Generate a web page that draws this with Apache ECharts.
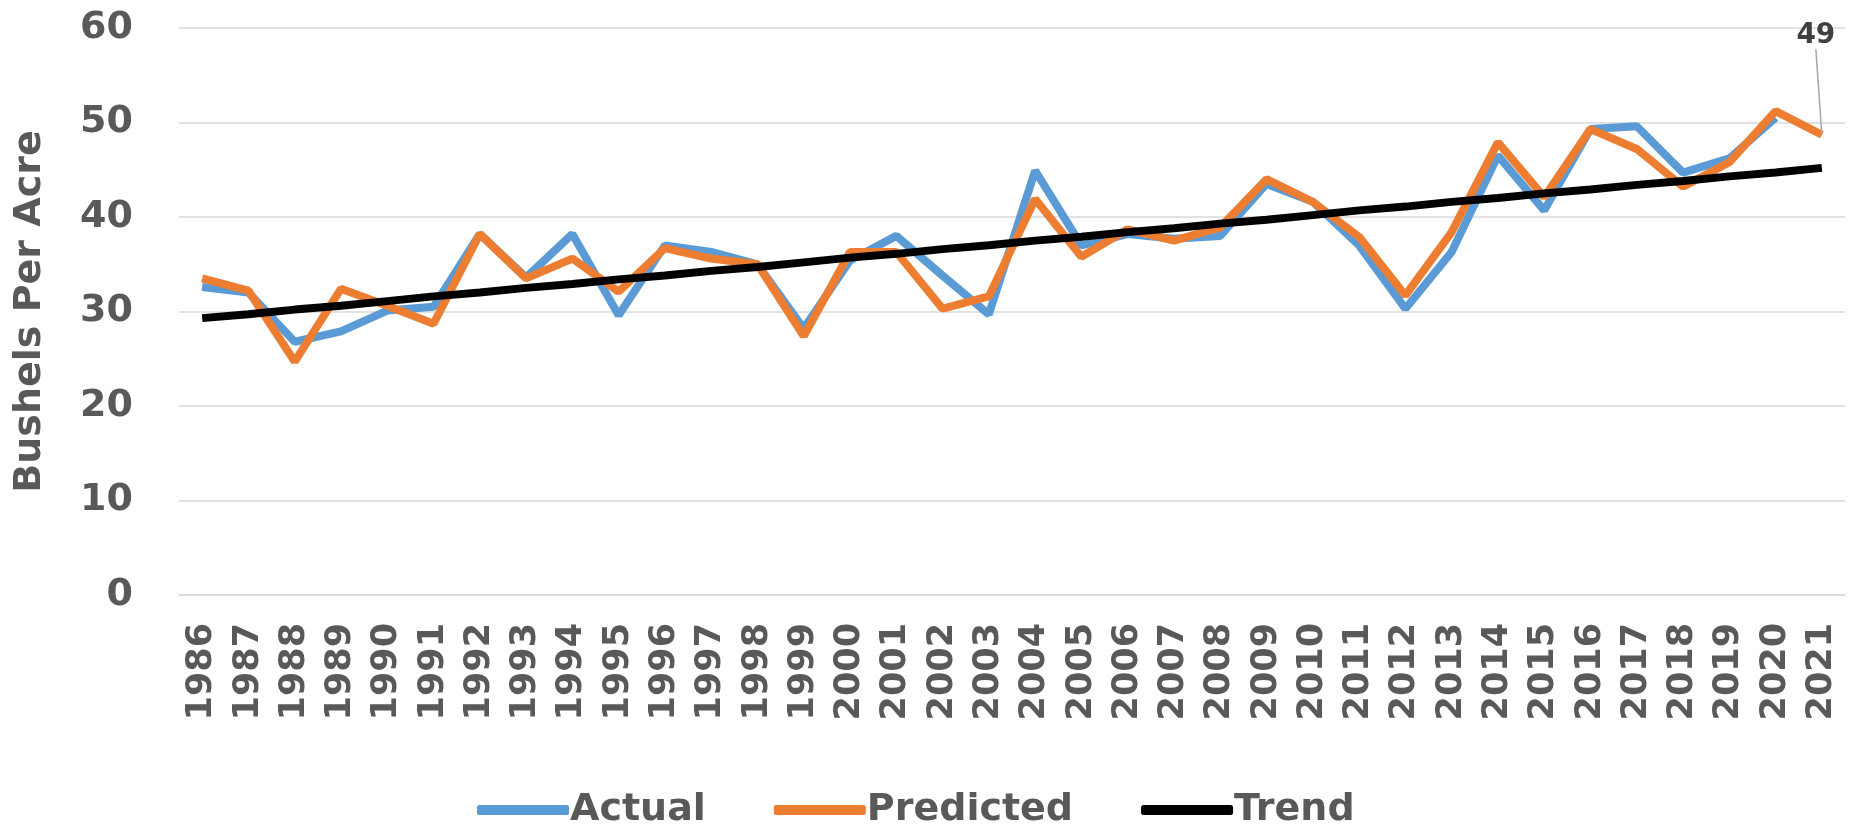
<!DOCTYPE html>
<html>
<head>
<meta charset="utf-8">
<script src="https://cdn.jsdelivr.net/npm/echarts@6/dist/echarts.min.js"></script>
<style>html,body{margin:0;padding:0;background:#fff;}#c{width:1849px;height:829px;}</style>
</head>
<body>
<div id="c"></div>
<script>
const years = ['1986','1987','1988','1989','1990','1991','1992','1993','1994','1995','1996','1997','1998','1999','2000','2001','2002','2003','2004','2005','2006','2007','2008','2009','2010','2011','2012','2013','2014','2015','2016','2017','2018','2019','2020','2021'];
const actual = [32.6,32.0,26.8,27.9,30.1,30.5,38.2,33.6,38.2,29.6,37.0,36.3,35.0,28.2,35.4,38.0,33.8,29.7,44.9,37.0,38.2,37.7,38.0,43.5,41.6,37.0,30.3,36.3,46.5,40.7,49.3,49.6,44.7,46.2,50.5,null];
const predicted = [33.5,32.2,24.7,32.4,30.6,28.7,38.2,33.5,35.6,32.1,36.7,35.6,35.0,27.4,36.3,36.3,30.3,31.6,41.9,35.8,38.7,37.5,38.9,44.0,41.6,37.9,31.7,38.4,47.9,42.1,49.3,47.2,43.2,45.8,51.2,48.7];
const trend = [29.3,29.7,30.2,30.6,31.1,31.6,32.0,32.5,32.9,33.4,33.8,34.3,34.7,35.2,35.7,36.1,36.6,37.0,37.5,37.9,38.4,38.8,39.3,39.7,40.2,40.7,41.1,41.6,42.0,42.5,42.9,43.4,43.8,44.3,44.7,45.2];
const yTicks = [0,10,20,30,40,50,60];
const seriesNames = ['Actual','Predicted','Trend'];

const FONT = 'DejaVu Sans';
const GRAY = '#595959';
const chart = echarts.init(document.getElementById('c'));
const predData = predicted.map((v,i)=> i===predicted.length-1 ? {
  value: v,
  symbol: 'circle', symbolSize: 1,
  label: {show:true, position:'top', formatter: p => String(Math.round(p.value)), fontFamily: FONT, fontWeight:'bold', fontSize: 28, color:'#404040'},
  labelLine: {show:true, lineStyle:{color:'#A6A6A6', width:1.5}}
} : v);
chart.setOption({
  animation: false,
  backgroundColor: '#fff',
  grid: {left: 179, right: 4, top: 28, bottom: 234, containLabel: false},
  legend: {
    bottom: -5, left: 472,
    itemWidth: 92, itemHeight: 10, itemGap: 68,
    icon: 'roundRect',
    textStyle: {fontFamily: FONT, fontWeight: 'bold', fontSize: 38, color: GRAY, padding:[0,0,0,-4]},
    data: seriesNames
  },
  xAxis: {
    type: 'category', data: years, boundaryGap: true,
    axisLine: {lineStyle: {color: '#D9D9D9', width: 1.5}},
    axisTick: {show: false},
    axisLabel: {interval: 0, rotate: 90, margin: 28, fontFamily: FONT, fontWeight: 'bold', fontSize: 35, color: GRAY}
  },
  yAxis: {
    type: 'value', min: yTicks[0], max: yTicks[yTicks.length-1], interval: 10,
    name: 'Bushels Per Acre', nameLocation: 'middle', nameGap: 130,
    nameTextStyle: {fontFamily: FONT, fontWeight: 'bold', fontSize: 38, color: GRAY},
    axisLine: {show: false}, axisTick: {show: false},
    splitLine: {lineStyle: {color: '#D9D9D9', width: 1.5}},
    axisLabel: {margin: 46, fontFamily: FONT, fontWeight: 'bold', fontSize: 38, color: GRAY}
  },
  series: [
    {name: seriesNames[0], type: 'line', data: actual, symbol: 'none', lineStyle: {color: '#5B9BD5', width: 8}, itemStyle: {color: '#5B9BD5'}, z: 2},
    {name: seriesNames[1], type: 'line', data: predData, symbol: 'none', lineStyle: {color: '#ED7D31', width: 8}, itemStyle: {color: '#ED7D31'}, z: 3,
      labelLayout: {dx: -6, dy: -80}, labelLine: {show: true, lineStyle:{color:'#A6A6A6', width:1.5}}},
    {name: seriesNames[2], type: 'line', data: trend, symbol: 'none', lineStyle: {color: '#000000', width: 8}, itemStyle: {color: '#000000'}, z: 4}
  ]
});
</script>
</body>
</html>
